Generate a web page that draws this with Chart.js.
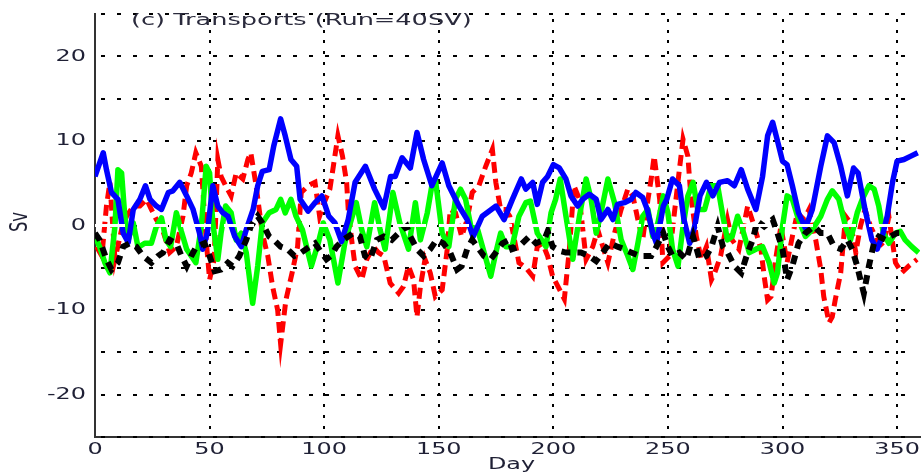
<!DOCTYPE html>
<html>
<head>
<meta charset="utf-8">
<script src="https://cdn.jsdelivr.net/npm/chart.js@4.4.1/dist/chart.umd.min.js"></script>
<style>
  html, body { margin: 0; padding: 0; background: #fff; }
  canvas { display: block; }
</style>
</head>
<body>
<canvas id="transportChart" width="923" height="474"></canvas>
<script>
const titleText = "(c) Transports (Run=40SV)";
const xTitle = "Day";
const yTitle = "Sv";
const yLabels = [-20, -10, 0, 10, 20];

// blue, solid
const blueDays = [0, 3.6, 5, 7.2, 10, 12.3, 14.5, 16.7, 19.6, 22,
  24, 26.8, 29, 32, 34, 37, 40, 42.8, 45.6, 47,
  49, 51.4, 53.6, 55.8, 58, 61, 63.8, 66, 69, 71,
  73, 76, 78, 81, 83, 85.5, 88, 89.5, 93, 96,
  99, 102, 104.7, 107.6, 110.5, 113.5, 118, 122, 126, 129,
  131, 134, 137.6, 140.5, 143.4, 147, 151.5, 154.4, 158.8, 162.4,
  165, 169, 175, 178.5, 182, 186, 188, 191, 193, 195.3,
  197.5, 200, 202.6, 205.5, 207.7, 210.6, 212.8, 215.7, 218.7, 220.8,
  223.8, 226, 228, 231, 234, 236, 239, 241, 243.4, 245,
  248, 249.5, 252, 255, 257, 259.5, 261.7, 264, 266.8, 269.6,
  272.5, 276, 279, 282, 284.8, 288.4, 291.3, 293.5, 295.7, 298,
  300, 302, 304.3, 307, 310, 313, 316.7, 319.6, 322.5, 325.4,
  328.3, 331, 333, 336, 339, 341.3, 343.5, 345.7, 348, 350,
  353, 356, 359];
const blueSv = [5.8, 8.6, 6.6, 3.9, 3.1, -0.9, -2.0, 1.9, 3.1, 4.7,
  3.1, 2.3, 1.9, 3.9, 4.1, 5.1, 3.5, 1.9, -0.9, -2.8,
  -0.9, 4.7, 2.3, 1.5, 1.1, -1.3, -2.5, -0.5, 1.9, 4.7,
  6.4, 6.6, 9.4, 12.6, 10.6, 7.8, 7.0, 3.1, 1.7, 2.7,
  3.5, 1.1, 0.3, -1.9, 0.7, 5.1, 7.0, 4.3, 2.1, 5.8,
  5.8, 8.0, 6.8, 11.0, 7.8, 4.7, 7.4, 4.7, 2.3, 0.7,
  -1.3, 1.1, 2.3, 0.7, 3.0, 5.5, 4.3, 5.1, 2.5, 5.1,
  5.8, 7.2, 6.8, 5.5, 3.5, 2.3, 3.1, 3.7, 3.1, 0.7,
  1.9, 0.7, 2.5, 2.7, 3.1, 3.9, 3.3, 1.9, -0.9, -2.1,
  2.3, 3.1, 5.5, 4.7, 0.7, -2.1, -0.1, 3.5, 5.1, 3.5,
  5.1, 5.3, 4.7, 6.6, 4.3, 1.9, 5.8, 10.6, 12.2, 9.8,
  7.6, 7.2, 4.7, 1.5, -0.3, 1.9, 7.0, 10.6, 9.8, 7.0,
  3.5, 6.8, 6.2, 1.9, -1.7, -2.8, -1.3, 1.1, 5.1, 7.6,
  7.8, 8.2, 8.6];

// green, solid
const greenDays = [0, 2, 4.3, 6.5, 8.7, 10, 11.6, 13, 14.5, 16.7,
  18.8, 21.7, 24.6, 26.8, 29, 31, 33, 35.5, 37.7, 40,
  42, 44, 46.4, 48.5, 50, 51.4, 53.6, 55, 57, 59.4,
  61.6, 63.8, 66, 68.8, 71, 73, 76, 79, 81, 83,
  85.5, 87.7, 90.5, 94.4, 97.4, 99.6, 102.5, 106, 109, 111,
  114, 116.4, 118.6, 122, 124.4, 126.6, 130, 133, 136.8, 139.8,
  142, 145, 147, 148.5, 151.5, 154.4, 157.3, 159.5, 161.7, 164,
  167, 169.8, 172.7, 174.9, 177, 179.3, 182, 185, 188, 190,
  193, 196.8, 199, 201, 203, 205.5, 208.5, 211.4, 214.3, 216.5,
  218.7, 220.8, 223.8, 226.7, 229.6, 232.5, 234.7, 236.9, 239, 241.3,
  243.4, 245.6, 248, 250, 252, 254.4, 256.6, 258.7, 261, 263,
  266, 268.8, 271.7, 274, 276, 278, 280.4, 282.6, 285.5, 288.4,
  291.3, 294.2, 296.4, 297.8, 300, 302, 304.3, 307, 310, 313,
  316.7, 319.6, 321.7, 324.6, 327.5, 329.7, 332.6, 334.8, 337.7, 340,
  342, 344, 346.4, 349.3, 351.4, 353.5, 356.4, 359.4];
const greenSv = [-1.3, -2.5, -4.4, -5.6, -0.1, 6.6, 6.2, 1.1, -1.7, 0.3,
  -2.6, -2.1, -2.1, -0.1, 0.9, -1.7, -2.5, 1.5, -0.7, -2.8,
  -3.6, -4.4, -0.1, 7.0, 6.2, 0.3, -4.0, -0.9, 2.3, 1.5,
  -1.7, -0.9, -3.2, -9.2, -4.8, 0.3, 1.5, 1.9, 3.1, 1.5,
  3.1, 1.1, -0.5, -4.8, -2.1, 0.3, -1.7, -6.8, -2.1, -0.1,
  2.7, -0.5, -2.5, 2.7, -0.5, -2.8, 3.9, 0.3, -2.8, 2.7,
  -1.7, 1.5, 4.7, 5.5, -0.9, -2.5, 3.1, 4.3, 3.1, -0.1,
  -0.5, -3.2, -6.0, -3.2, -0.9, -2.5, -2.5, 1.1, 2.7, 2.9,
  -0.9, -2.5, 1.5, 3.1, 5.5, 1.1, -4.0, 1.1, 5.5, 3.1,
  -0.9, 1.5, 5.5, 2.7, -1.7, -3.6, -5.2, -2.1, 1.1, 1.9,
  -1.3, 0.3, 3.5, 1.5, -2.8, -4.8, -0.1, 3.5, 5.1, 1.9,
  1.9, 4.7, 4.7, 1.1, -1.7, -1.3, 1.1, -0.5, -3.2, -2.8,
  -2.5, -4.4, -6.8, -5.6, -0.1, 3.5, 3.1, 0.7, -1.3, -0.5,
  1.1, 3.1, 4.1, 3.1, -0.1, -1.7, 1.5, 3.1, 4.7, 4.3,
  2.3, -0.9, -2.1, -0.9, -0.7, -1.7, -2.5, -3.2];

// red, dashed
const redDays = [0.7, 3, 5, 6.5, 8.7, 11.6, 13.8, 16.7, 19.6, 22.5,
  24.6, 26.8, 29, 32.6, 35.5, 38.4, 40, 42, 44, 46.4,
  48.5, 50, 52, 53.6, 55, 57, 59.4, 61.6, 64.5, 66.7,
  68, 70.3, 73, 75.4, 77.5, 79.7, 81, 83.3, 86, 88.4,
  90, 93, 96, 98, 100, 102.5, 104, 106, 108, 109.8,
  110.5, 112, 113.5, 116.4, 118.6, 121.5, 123.7, 126, 128.8, 132.5,
  134.6, 136.8, 139, 140.5, 142, 144, 146.3, 148.5, 151.5, 153.7,
  155, 157.3, 160, 162.4, 164.6, 167.5, 170.5, 173.4, 174.9, 177,
  179, 181, 185, 188, 191, 193, 195.3, 197.5, 199.7, 202,
  204.8, 207, 209, 211.4, 214.3, 217.2, 219.4, 221.6, 223.8, 226.7,
  229.6, 232.5, 234.7, 236.9, 239, 241.3, 242.7, 244, 246.4, 247.8,
  250.7, 253, 255, 256.6, 258.7, 260, 262.4, 264.6, 266.8, 269,
  270.4, 273, 276, 278, 281, 284.8, 287.7, 290.6, 292, 293.5,
  295, 297, 299.3, 302, 304.3, 306.5, 309.4, 311.6, 314.5, 316.7,
  318, 320.3, 321.7, 323, 325.4, 327.5, 329.7, 332, 334, 336,
  338.4, 341.3, 344, 346.4, 349.3, 352, 355, 358.7];
const redSv = [-2.5, -3.6, 2.3, 5.1, -4.0, -0.5, 1.1, 2.3, 2.3, 3.1,
  1.9, 0.7, -0.1, -3.2, -2.5, 1.1, 4.7, 6.2, 8.6, 7.0,
  -1.7, -6.4, -4.0, 7.8, 5.8, 4.7, 3.5, 6.2, 5.5, 7.8,
  8.6, 4.7, -0.9, -3.6, -7.2, -10.0, -14.0, -8.8, -5.6, -2.5,
  3.9, 4.7, 5.1, 1.1, 2.7, 4.3, 7.0, 10.6, 8.2, 5.1,
  1.9, -1.7, -4.8, -6.4, -4.0, -2.5, -3.2, -3.6, -6.8, -8.0,
  -7.2, -4.8, -6.4, -10.8, -7.2, -4.0, -5.6, -8.4, -7.6, -2.8,
  1.9, 1.5, -1.3, 0.7, 3.9, 4.7, 7.0, 9.0, 5.1, 1.9,
  1.9, 1.1, -4.4, -5.0, -6.0, -2.5, -2.1, -3.6, -6.0, -7.2,
  -8.7, -2.8, 4.7, 3.1, -4.0, -2.5, -0.5, -2.5, -4.4, -0.9,
  1.9, 4.3, 3.5, 0.7, -1.7, 3.1, 5.5, 8.2, 3.1, -4.4,
  -3.6, 1.9, 6.6, 10.2, 8.2, 3.5, -1.3, -4.0, -2.5, -6.4,
  -5.6, -3.6, 0.7, -1.7, -2.8, 2.3, -0.1, -2.8, -6.0, -8.8,
  -8.4, -4.0, -0.1, -4.4, -1.3, 1.5, 0.7, 1.9, -1.7, -5.2,
  -8.4, -11.5, -10.8, -8.8, -5.6, 1.1, 0.3, -3.2, -0.1, 1.9,
  -0.1, -1.7, -2.5, 1.1, -4.4, -5.6, -4.8, -4.0];

// black, dashed
const blackDays = [0, 2, 5, 7.2, 10, 12.3, 15.2, 18, 21, 24.6,
  27.5, 29.7, 32.6, 35.5, 37.7, 40, 42, 44.2, 47.8, 50,
  52.2, 55, 58, 60, 63, 66, 68, 71, 73, 76,
  78, 81, 84, 87, 90, 93.7, 96, 98.8, 101, 103,
  105.4, 108.3, 112.7, 115.6, 117.8, 120, 123, 126, 129.5, 132.5,
  136, 137.6, 140.5, 143.4, 146.3, 149, 152, 155, 158, 160,
  162.4, 164.6, 166.8, 169.7, 172.7, 174.9, 177.8, 180.7, 182, 185,
  189.5, 192.4, 196, 197.5, 199.7, 202.6, 205.5, 209, 212, 215.7,
  218.7, 221.6, 224.5, 228, 231, 234, 237.6, 240.5, 242.7, 245,
  248, 250, 252, 255, 258, 261, 263.8, 266.8, 269, 271.7,
  274, 276, 279, 282, 284.8, 287, 289, 292, 295.7, 297.8,
  300, 302, 304.3, 307, 310, 313.8, 316.7, 319.6, 322.5, 325.4,
  328.3, 330.4, 332.6, 334, 335.5, 337.7, 339.9, 342, 345, 347,
  350, 352];
const blackSv = [-0.9, -1.7, -4.0, -5.2, -4.4, -2.5, -2.1, -2.5, -3.6, -4.4,
  -3.6, -3.2, -1.7, -2.1, -3.6, -4.8, -3.6, -2.5, -2.1, -3.6,
  -5.4, -5.2, -4.4, -4.8, -3.6, -1.7, -0.1, 1.1, 0.3, -1.3,
  -1.7, -2.5, -2.8, -3.6, -3.2, -2.5, -2.1, -3.2, -4.0, -3.6,
  -2.5, -1.7, -0.9, -1.3, -3.6, -4.0, -1.7, -1.3, -1.7, -0.9,
  -0.1, -1.3, -2.8, -3.6, -2.8, -1.7, -2.1, -3.2, -5.2, -4.8,
  -2.8, -1.7, -2.5, -3.6, -4.0, -3.2, -2.1, -1.7, -2.8, -2.5,
  -1.3, -2.1, -1.7, -0.7, -2.5, -3.0, -3.2, -3.2, -3.2, -3.6,
  -4.2, -3.2, -2.1, -2.5, -2.8, -3.2, -3.6, -3.6, -3.6, -2.5,
  -0.9, -2.5, -3.6, -3.2, -4.0, -1.3, -4.0, -3.6, -2.5, -0.1,
  -2.5, -3.2, -4.8, -5.6, -3.2, -1.7, 0.5, -0.1, 0.7, -0.9,
  -2.8, -6.4, -4.8, -2.1, -0.9, -0.1, -0.9, -0.9, -2.5, -2.8,
  -1.7, -2.8, -4.8, -6.4, -8.0, -4.8, -2.1, -1.3, -1.7, -1.3,
  -0.9, -0.9];

// white dashed zero line drawn over everything
const zeroDays = [0, 355];
const zeroSv = [0, 0];

const textColor = "#1f2035";
const textFont = "16.5px 'DejaVu Sans'";
const stretch = 1.45;

function toPoints(days, values) {
  return days.map((d, i) => ({ x: d, y: values[i] }));
}

function wideText(ctx, text, px, py, sx, align, angle) {
  ctx.save();
  ctx.translate(px, py);
  ctx.scale(sx, 1);
  if (angle) ctx.rotate(angle);
  ctx.textAlign = align;
  ctx.fillText(text, 0, 0);
  ctx.restore();
}

const lineBase = { pointRadius: 0, tension: 0, fill: false, borderJoinStyle: "round" };

// dotted grid at the scales' own ticks, drawn under the data lines
const dottedGrid = {
  id: "dottedGrid",
  beforeDatasetsDraw(chart) {
    const { ctx, chartArea: a, scales: { x, y } } = chart;
    ctx.save();
    ctx.globalAlpha = 1;
    ctx.globalCompositeOperation = "source-over";
    ctx.fillStyle = "#000000";
    y.ticks.forEach((t) => {
      const py = Math.round(y.getPixelForValue(t.value));
      for (let px = a.left + 6; px < a.right - 3; px += 16) {
        ctx.fillRect(Math.round(px), py - 1, 4, 2);
      }
    });
    x.ticks.forEach((t) => {
      if (t.value === 0) return;
      const px = Math.round(x.getPixelForValue(t.value));
      for (let py = a.top + 5; py < a.bottom - 1; py += 10.7) {
        ctx.fillRect(px - 1, Math.round(py), 2, 3);
      }
    });
    ctx.restore();
  },
};

// the original's text is stretched sideways; draw it with a horizontal scale
const stretchedLabels = {
  id: "stretchedLabels",
  afterDraw(chart) {
    const { ctx, chartArea: a, scales: { x, y } } = chart;
    ctx.save();
    ctx.fillStyle = textColor;
    ctx.font = textFont;
    ctx.textBaseline = "middle";
    x.ticks.forEach((t) => {
      wideText(ctx, String(t.value), x.getPixelForValue(t.value), 450, stretch, "center");
    });
    y.ticks.forEach((t) => {
      if (yLabels.includes(t.value)) {
        wideText(ctx, String(t.value), 86, y.getPixelForValue(t.value), stretch, "right");
      }
    });
    wideText(ctx, xTitle, (a.left + a.right) / 2 + 4, 465, stretch, "center");
    wideText(ctx, yTitle, 21, 222, stretch, "center", -Math.PI / 2);
    ctx.fillStyle = "#2a2a3c";
    ctx.font = "16px 'DejaVu Sans'";
    wideText(ctx, titleText, 131, 21, 1.6, "left");
    ctx.restore();
  },
};

const ctx = document.getElementById("transportChart").getContext("2d");

const transportChart = new Chart(ctx, {
  type: "line",
  data: {
    datasets: [
      Object.assign({}, lineBase, {
        label: "zero",
        data: toPoints(zeroDays, zeroSv),
        borderColor: "#ffffff",
        borderWidth: 3,
        borderDash: [30, 13],
      }),
      Object.assign({}, lineBase, {
        label: "black",
        data: toPoints(blackDays, blackSv),
        borderColor: "#000000",
        borderWidth: 6,
        borderDash: [9, 7],
        borderJoinStyle: "miter",
      }),
      Object.assign({}, lineBase, {
        label: "blue",
        data: toPoints(blueDays, blueSv),
        borderColor: "#0000ff",
        borderWidth: 5.5,
      }),
      Object.assign({}, lineBase, {
        label: "green",
        data: toPoints(greenDays, greenSv),
        borderColor: "#00ff00",
        borderWidth: 5.5,
      }),
      Object.assign({}, lineBase, {
        label: "red",
        data: toPoints(redDays, redSv),
        borderColor: "#ff0000",
        borderWidth: 5,
        borderDash: [11, 6],
        borderJoinStyle: "miter",
      }),
    ],
  },
  options: {
    responsive: false,
    animation: false,
    devicePixelRatio: 1,
    layout: { padding: { top: 14, right: 3, left: 0, bottom: 0 } },
    plugins: {
      legend: { display: false },
      tooltip: { enabled: false },
    },
    scales: {
      x: {
        type: "linear",
        min: 0,
        max: 360,
        afterFit: function (scale) {
          scale.height = 37;
        },
        ticks: { stepSize: 50, includeBounds: false, autoSkip: false, maxRotation: 0, display: false },
        grid: { display: false },
        border: { color: "#333333", width: 2 },
      },
      y: {
        min: -25,
        max: 25,
        afterFit: function (scale) {
          scale.width = 95;
        },
        ticks: { stepSize: 5, display: false },
        grid: { display: false },
        border: { color: "#333333", width: 2 },
      },
    },
  },
  plugins: [dottedGrid, stretchedLabels],
});
</script>
</body>
</html>
